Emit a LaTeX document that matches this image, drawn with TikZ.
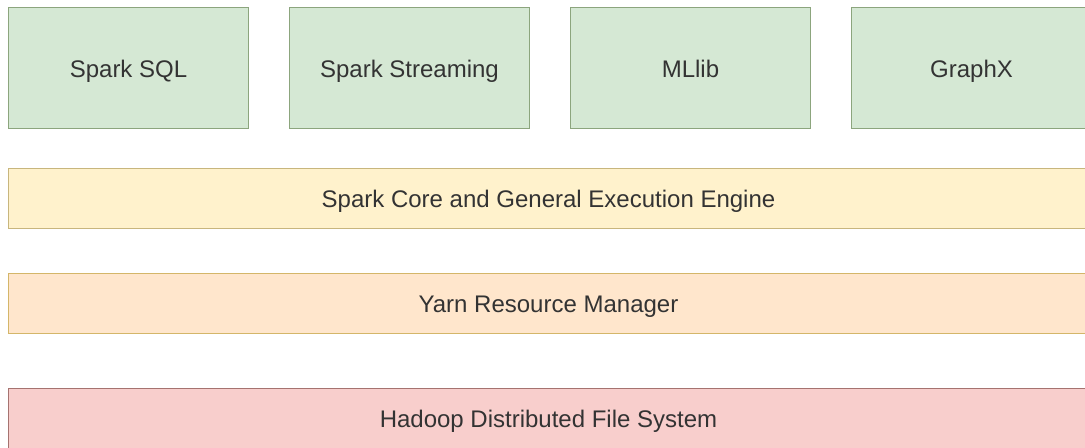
\documentclass[tikz,border=0pt]{standalone}
\usepackage{fontspec}
\setmainfont{Liberation Sans}
\usetikzlibrary{positioning}
\definecolor{spGreen}{RGB}{213,232,212}
\definecolor{spGreenLine}{RGB}{140,165,125}
\definecolor{spCore}{RGB}{255,242,204}
\definecolor{spCoreLine}{RGB}{200,182,125}
\definecolor{spYarn}{RGB}{255,230,204}
\definecolor{spYarnLine}{RGB}{212,182,105}
\definecolor{spHdfs}{RGB}{248,206,204}
\definecolor{spHdfsLine}{RGB}{165,115,112}
\definecolor{spInk}{RGB}{51,51,51}
\tikzset{
  modbox/.style={draw=spGreenLine, fill=spGreen, line width=0.75pt,
    minimum width=180pt, minimum height=90.75pt, inner sep=0pt,
    text height=12.9pt, text depth=0pt,
    font=\fontsize{18}{21}\selectfont, text=spInk},
  layerbar/.style={line width=0.75pt, minimum width=810.75pt,
    minimum height=45pt, inner sep=0pt,
    text height=12.9pt, text depth=0pt,
    font=\fontsize{18}{21}\selectfont, text=spInk}
}

\begin{document}
\begin{tikzpicture}[x=0.75pt,y=-0.75pt]
  \useasboundingbox (0,0) rectangle (1085,448);
  % top row of libraries
  \node[modbox] (sql) at (128.5,68.5) {Spark SQL};
  \node[modbox, right=30pt of sql] (streaming) {Spark Streaming};
  \node[modbox, right=30pt of streaming] (mllib) {MLlib};
  \node[modbox, right=30pt of mllib] (graphx) {GraphX};
  % layers underneath
  \node[layerbar, draw=spCoreLine, fill=spCore] (core) at (548.5,199) {Spark Core and General Execution Engine};
  \node[layerbar, draw=spYarnLine, fill=spYarn] (yarn) at (548.5,304) {Yarn Resource Manager};
  \node[layerbar, draw=spHdfsLine, fill=spHdfs] (hdfs) at (548.5,419) {Hadoop Distributed File System};
\end{tikzpicture}
\end{document}
